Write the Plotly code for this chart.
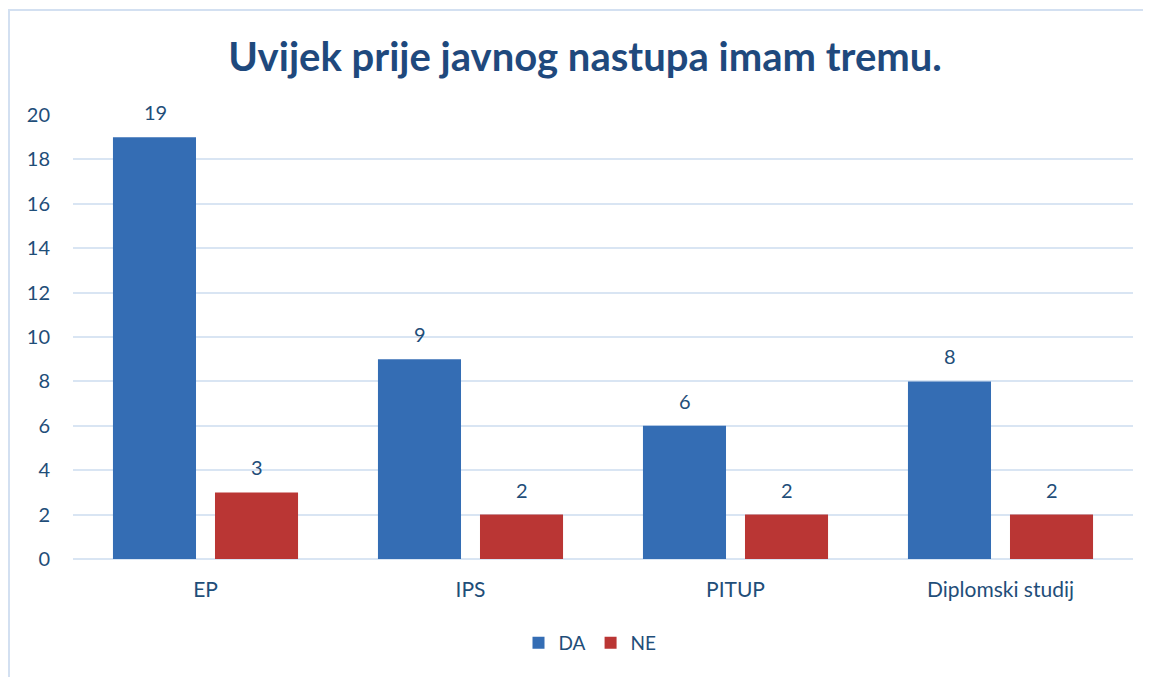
import plotly.graph_objects as go

categories = ["EP", "IPS", "PITUP", "Diplomski studij"]
da_values = [19, 9, 6, 8]
ne_values = [3, 2, 2, 2]
y_ticks = [0, 2, 4, 6, 8, 10, 12, 14, 16, 18, 20]

# page has an 8px body margin; figure coordinates = reference px - 8
OFF = 8
W, H = 1151 - OFF, 677 - OFF
L, R, T, B = 73 - OFF, 18, 115 - OFF, 118
pw, ph = W - L - R, H - T - B

def px_x(x):
    return (x - OFF - L) / pw

def px_y(y):
    return (H - B - (y - OFF)) / ph

text_color = "#1F4E79"
font_family = "Lato, 'Open Sans', sans-serif"
da_color = "#346DB4"
ne_color = "#BA3634"

fig = go.Figure()
fig.add_trace(go.Bar(
    name="DA", x=categories, y=da_values,
    marker=dict(color=da_color, line=dict(width=0)),
))
fig.add_trace(go.Bar(
    name="NE", x=categories, y=ne_values,
    marker=dict(color=ne_color, line=dict(width=0)),
))

annotations = []
for series, shift in ((da_values, -50.5), (ne_values, 51)):
    for cat, val in zip(categories, series):
        annotations.append(dict(
            x=cat, y=val, xref="x", yref="y", text=str(val),
            showarrow=False, xshift=shift, yshift=25,
            xanchor="center", yanchor="middle",
            font=dict(size=20, color=text_color, family=font_family),
        ))

fig.update_layout(
    width=W, height=H,
    margin=dict(l=L, r=R, t=T, b=B, pad=0),
    paper_bgcolor="white", plot_bgcolor="white",
    barmode="group", bargap=0.23, bargroupgap=0.186,
    title=dict(
        text="<b>Uvijek prije javnog nastupa imam tremu.</b>",
        font=dict(size=40, color="#1F497D", family=font_family),
        x=(585 - OFF) / W, xanchor="center", xref="container",
        y=1 - (57 - OFF) / H, yanchor="middle", yref="container",
    ),
    showlegend=True,
    legend=dict(
        orientation="h", x=px_x(590), xanchor="center",
        y=px_y(643), yanchor="middle",
        font=dict(size=19, color=text_color, family=font_family),
        itemwidth=30, traceorder="normal",
    ),
    font=dict(family=font_family, color=text_color),
    annotations=annotations,
    shapes=[dict(
        type="rect", xref="paper", yref="paper",
        x0=px_x(9), x1=px_x(1175), y0=px_y(10), y1=px_y(700),
        line=dict(color="#D3E0F1", width=2), fillcolor="rgba(0,0,0,0)",
        layer="below",
    )],
)
fig.update_xaxes(
    showgrid=False, showline=False, ticks="", ticklabelstandoff=16,
    tickfont=dict(size=21, color=text_color, family=font_family),
)
fig.update_yaxes(
    range=[0, 20], tickvals=y_ticks, showgrid=True,
    gridcolor="#D9E5F3", gridwidth=1.5, zeroline=True,
    zerolinecolor="#D9E5F3", zerolinewidth=1.5,
    showline=False, ticks="", ticklabelstandoff=22,
    tickfont=dict(size=20, color=text_color, family=font_family),
)

fig.write_html("out.html")
